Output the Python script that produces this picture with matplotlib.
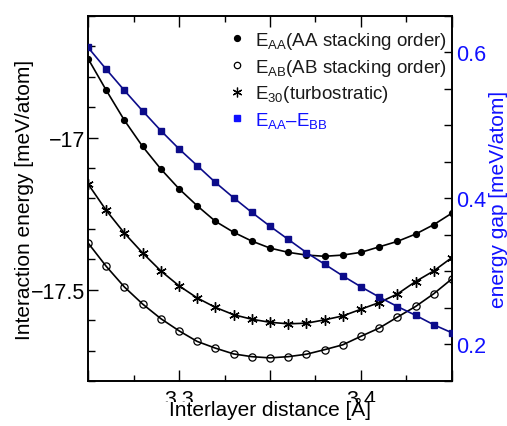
import matplotlib
matplotlib.use("Agg")
import matplotlib.pyplot as plt
from matplotlib.lines import Line2D
from matplotlib.ticker import MultipleLocator
from matplotlib.transforms import Bbox, TransformedBbox

plt.rcParams['font.family'] = ['Liberation Sans', 'DejaVu Sans']
plt.rcParams['mathtext.fontset'] = 'custom'
plt.rcParams['mathtext.rm'] = 'Liberation Sans'
plt.rcParams['mathtext.it'] = 'Liberation Sans:italic'

# ---- data ----
distance = [3.25, 3.26, 3.27, 3.28, 3.29, 3.30, 3.31, 3.32, 3.33, 3.34, 3.35,
            3.36, 3.37, 3.38, 3.39, 3.40, 3.41, 3.42, 3.43, 3.44, 3.45]
e_aa = [-16.740, -16.844, -16.943, -17.029, -17.103, -17.168, -17.224, -17.275,
        -17.311, -17.340, -17.363, -17.377, -17.386, -17.390, -17.386, -17.377,
        -17.359, -17.341, -17.317, -17.286, -17.248]
e_ab = [-17.346, -17.423, -17.491, -17.547, -17.595, -17.635, -17.670, -17.692,
        -17.711, -17.720, -17.724, -17.720, -17.712, -17.697, -17.681, -17.653,
        -17.626, -17.590, -17.555, -17.513, -17.464]
e_30 = [-17.152, -17.239, -17.314, -17.379, -17.438, -17.487, -17.527, -17.558,
        -17.582, -17.597, -17.607, -17.612, -17.610, -17.599, -17.586, -17.564,
        -17.542, -17.514, -17.473, -17.438, -17.394]
gap = [0.607, 0.577, 0.548, 0.520, 0.493, 0.468, 0.445, 0.422, 0.401, 0.381,
       0.362, 0.344, 0.326, 0.310, 0.294, 0.279, 0.265, 0.252, 0.240, 0.227, 0.216]

x_ticks = [3.25, 3.30, 3.35, 3.40, 3.45]
x_ticklabels = ['', '3.3', '', '3.4', '']
y_ticks = [-17.5, -17.0]
y_ticklabels = ['\u221217.5', '\u221217']
y2_ticks = [0.2, 0.4, 0.6]
y2_ticklabels = ['0.2', '0.4', '0.6']

labels = [r'$\mathrm{E_{AA}}$(AA stacking order)',
          r'$\mathrm{E_{AB}}$(AB stacking order)',
          r'$\mathrm{E_{30}}$(turbostratic)',
          r'$\mathrm{E_{AA}}$' + '\u2013' + r'$\mathrm{E_{BB}}$']

BLUE = '#1010ff'
NAVY = '#0c0c8a'

fig = plt.figure(figsize=(5.07, 4.27), dpi=100)
ax = fig.add_axes([0.1736, 0.1054, 0.8915 - 0.1736, 0.9602 - 0.1054])
ax2 = ax.twinx()

ax.plot(distance, e_aa, color='black', lw=1.2, marker='o', ms=4.2,
        mfc='black', mec='black', zorder=3)
ax.plot(distance, e_ab, color='black', lw=1.2, marker='o', ms=5.2,
        mfc='none', mec='black', mew=0.9, zorder=3)
ax.plot(distance, e_30, color='black', lw=1.2, marker=(6, 2, 0), ms=7.5,
        mec='black', mew=1.0, zorder=3)
ax2.plot(distance, gap, color=NAVY, lw=1.2, marker='s', ms=4.8,
         mfc=NAVY, mec=NAVY, zorder=3)

ax.set_xlim(3.25, 3.45)
ax.set_ylim(-17.8, -16.6)
ax2.set_ylim(0.15, 0.65)

ax.set_xticks(x_ticks)
ax.set_xticklabels(x_ticklabels)
ax.xaxis.set_minor_locator(MultipleLocator(0.025))
ax.set_yticks(y_ticks)
ax.set_yticklabels(y_ticklabels)
ax.yaxis.set_minor_locator(MultipleLocator(0.1))
ax2.set_yticks(y2_ticks)
ax2.set_yticklabels(y2_ticklabels)
ax2.yaxis.set_minor_locator(MultipleLocator(0.05))

ax.tick_params(axis='x', which='both', direction='in', top=True, labelsize=15.5, pad=6)
ax.tick_params(axis='x', which='major', length=8, width=1)
ax.tick_params(axis='x', which='minor', length=4.5, width=1)
ax.tick_params(axis='y', which='both', direction='in', right=False, labelsize=15.5, pad=2)
ax.tick_params(axis='y', which='major', length=7, width=1)
ax.tick_params(axis='y', which='minor', length=5, width=1)
ax2.tick_params(axis='y', which='both', direction='in', labelsize=15.5,
                labelcolor=BLUE, pad=3)
ax2.tick_params(axis='y', which='major', length=6, width=1)
ax2.tick_params(axis='y', which='minor', length=6, width=1)

for a in (ax, ax2):
    for s in a.spines.values():
        s.set_linewidth(1.2)

# the reference's x label sits over the lower part of the tick labels
clip = TransformedBbox(Bbox([[0, (427 - 403) / 427], [1, 1]]), fig.transFigure)
for lab in ax.get_xticklabels():
    lab.set_clip_box(clip)
    lab.set_clip_on(True)

ax.set_xlabel('Interlayer distance [\u00c5]', fontsize=15, labelpad=-9.5)
ax.set_ylabel('Interaction energy [meV/atom]', fontsize=15, labelpad=-2)
ax2.set_ylabel('energy gap [meV/atom]', fontsize=15, color=BLUE, labelpad=2)

handles = [Line2D([], [], ls='none', marker='o', ms=4.2, mfc='black', mec='black'),
           Line2D([], [], ls='none', marker='o', ms=4.6, mfc='none', mec='black', mew=0.9),
           Line2D([], [], ls='none', marker=(6, 2, 0), ms=7, mec='black', mew=0.9),
           Line2D([], [], ls='none', marker='s', ms=4.6, mfc=BLUE, mec=BLUE)]
leg = ax2.legend(handles, labels, loc='upper right', bbox_to_anchor=(1.016, 0.99),
                 frameon=False, fontsize=13.5, handlelength=0.8, handletextpad=0.6,
                 labelspacing=0.3, borderaxespad=0.35, borderpad=0.2)
for t in leg.get_texts():
    t.set_color('#1a1a1a')
leg.get_texts()[3].set_color(BLUE)

fig.savefig('out.png', dpi=100)
